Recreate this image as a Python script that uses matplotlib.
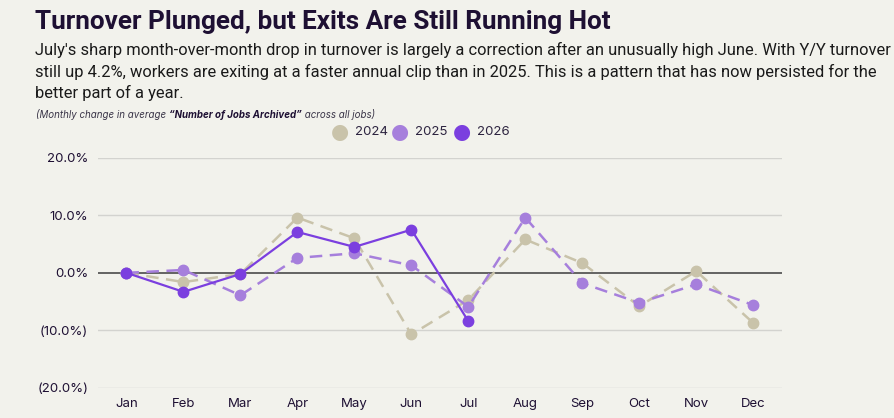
import matplotlib
matplotlib.use("Agg")
import matplotlib.pyplot as plt

# Data (monthly change in %)
months = ["Jan", "Feb", "Mar", "Apr", "May", "Jun", "Jul", "Aug", "Sep", "Oct", "Nov", "Dec"]
y2024 = [0.0, -1.6, -0.2, 9.6, 6.0, -10.7, -4.7, 5.8, 1.7, -5.8, 0.3, -8.7]
y2025 = [0.0, 0.5, -3.9, 2.6, 3.4, 1.3, -5.9, 9.6, -1.8, -5.2, -2.0, -5.6]
y2026 = [0.0, -3.3, -0.2, 7.1, 4.5, 7.5, -8.4]
yticks = [-20, -10, 0, 10, 20]
ytick_labels = ["(20.0%)", "(10.0%)", "0.0%", "10.0%", "20.0%"]

bg = "#f2f2ec"
dark = "#1e1033"
c2024 = "#c9c3aa"
c2025 = "#a67fdc"
c2026 = "#7b3fdf"

plt.rcParams["font.family"] = ["Inter", "DejaVu Sans"]

fig = plt.figure(figsize=(8.94, 4.18), dpi=100, facecolor=bg)
ax = fig.add_axes([98 / 894, 1 - 388 / 418, (781.7 - 98) / 894, 230.3 / 418])
ax.set_facecolor(bg)

x = list(range(len(months)))
ax.plot(x, y2024, color=c2024, lw=1.8, ls=(0, (5, 3)), marker="o", ms=7.5, zorder=3)
ax.plot(x, y2025, color=c2025, lw=1.8, ls=(0, (5, 3)), marker="o", ms=7.5, zorder=4)
ax.plot(x[:len(y2026)], y2026, color=c2026, lw=1.6, marker="o", ms=7.5, zorder=5)

ax.set_xlim(-0.5, 11.5)
ax.set_ylim(-20, 20)
ax.set_xticks(x)
ax.set_xticklabels(months)
ax.set_yticks(yticks)
ax.set_yticklabels(ytick_labels)
ax.tick_params(length=0, labelsize=9.5, labelcolor=dark, pad=7)
for t in yticks:
    if t == 0:
        ax.axhline(t, color="#4a4a4a", lw=1.2, zorder=2)
    else:
        ax.axhline(t, color="#d3d3cf", lw=1.0, zorder=1)
for s in ax.spines.values():
    s.set_visible(False)

# legend
for xp, col, lab in [(340, c2024, "2024"), (400, c2025, "2025"), (462, c2026, "2026")]:
    fig.text(xp / 894, 1 - 132 / 418, "\u25cf", color=col, fontsize=15,
             ha="center", va="center", family=["DejaVu Sans"])
    fig.text((xp + 15) / 894, 1 - 132 / 418, lab, color="#2d2440", fontsize=9.5,
             ha="left", va="center")

fig.canvas.draw()
r = fig.canvas.get_renderer()


def fit(t, width_px):
    # shrink/grow a text so it spans the given pixel width
    w = t.get_window_extent(renderer=r).width
    t.set_fontsize(t.get_fontsize() * width_px / w)


# title and subtitle
title = fig.text(35 / 894, 1 - 22 / 418, "Turnover Plunged, but Exits Are Still Running Hot",
                 fontsize=19, fontweight="bold", color=dark, family=["Roboto", "DejaVu Sans"],
                 va="center", ha="left")
fit(title, 578)
sub_lines = ["July's sharp month-over-month drop in turnover is largely a correction after an unusually high June. With Y/Y turnover",
             "still up 4.2%, workers are exiting at a faster annual clip than in 2025. This is a pattern that has now persisted for the",
             "better part of a year."]
first = fig.text(35 / 894, 1 - 50 / 418, sub_lines[0], fontsize=12, color="#1a1a1a",
                 family=["Roboto", "DejaVu Sans"], va="center", ha="left")
fit(first, 850)
for i, line in enumerate(sub_lines[1:], start=1):
    fig.text(35 / 894, 1 - (50 + 21.5 * i) / 418, line, fontsize=first.get_fontsize(),
             color="#1a1a1a", family=["Roboto", "DejaVu Sans"], va="center", ha="left")

# caption with bold part
cx = 36 / 894
cy = 1 - 115 / 418
parts = [("(Monthly change in average ", "normal"),
         ("\u201cNumber of Jobs Archived\u201d", "bold"),
         (" across all jobs)", "normal")]
for txt, w in parts:
    t = fig.text(cx, cy, txt, fontsize=7.0, style="italic", fontweight=w,
                 color="#3a3548" if w == "normal" else dark, va="center", ha="left")
    bb = t.get_window_extent(renderer=r)
    cx += bb.width / fig.bbox.width

fig.savefig("out.png", dpi=100, facecolor=bg)
